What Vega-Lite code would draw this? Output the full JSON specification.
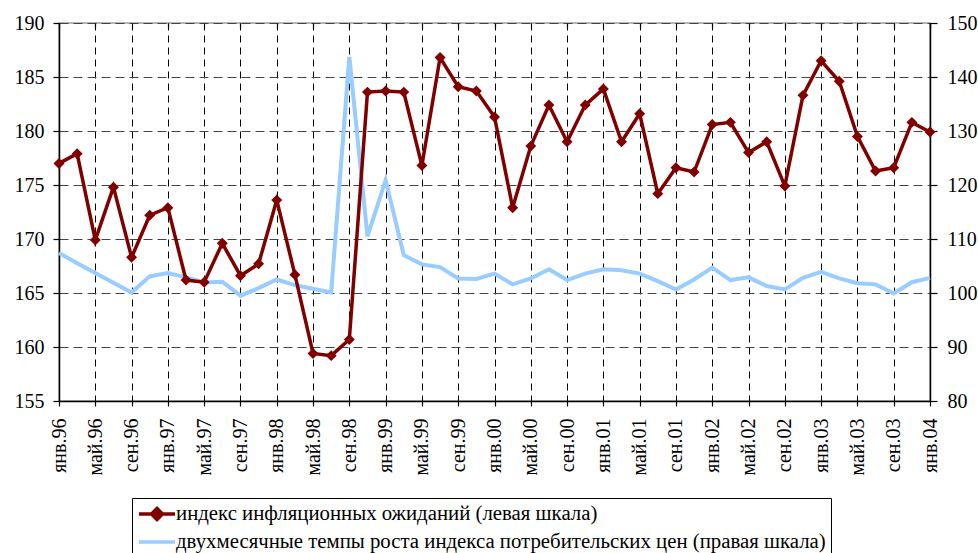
{
  "$schema": "https://vega.github.io/schema/vega-lite/v6.json",
  "width": 871,
  "height": 378,
  "autosize": {"type": "none"},
  "padding": {"left": 59, "top": 23, "right": 48, "bottom": 152},
  "background": "white",
  "config": {
    "font": "Liberation Serif",
    "view": {"stroke": "#a0a0a0", "strokeWidth": 1.5},
    "axis": {
      "labelFont": "Liberation Serif",
      "labelFontSize": 20,
      "labelColor": "black",
      "domainColor": "black",
      "domainWidth": 1.5,
      "tickColor": "black",
      "tickWidth": 1.2,
      "title": null
    }
  },
  "data": {
    "values": [
      {"date": "янв.96", "ie": 177.0, "cpi": 107.4},
      {"date": "мар.96", "ie": 177.9, "cpi": 105.5},
      {"date": "май.96", "ie": 169.9, "cpi": 103.7},
      {"date": "июл.96", "ie": 174.8, "cpi": 101.9},
      {"date": "сен.96", "ie": 168.3, "cpi": 100.1},
      {"date": "ноя.96", "ie": 172.2, "cpi": 103.1},
      {"date": "янв.97", "ie": 172.9, "cpi": 103.7},
      {"date": "мар.97", "ie": 166.2, "cpi": 102.9},
      {"date": "май.97", "ie": 166.0, "cpi": 101.95},
      {"date": "июл.97", "ie": 169.6, "cpi": 102.1},
      {"date": "сен.97", "ie": 166.6, "cpi": 99.5},
      {"date": "ноя.97", "ie": 167.7, "cpi": 100.9},
      {"date": "янв.98", "ie": 173.6, "cpi": 102.5},
      {"date": "мар.98", "ie": 166.7, "cpi": 101.45},
      {"date": "май.98", "ie": 159.4, "cpi": 100.8},
      {"date": "июл.98", "ie": 159.2, "cpi": 100.1},
      {"date": "сен.98", "ie": 160.7, "cpi": 143.7},
      {"date": "ноя.98", "ie": 183.6, "cpi": 110.5},
      {"date": "янв.99", "ie": 183.7, "cpi": 120.9},
      {"date": "мар.99", "ie": 183.6, "cpi": 107.0},
      {"date": "май.99", "ie": 176.8, "cpi": 105.3},
      {"date": "июл.99", "ie": 186.8, "cpi": 104.8},
      {"date": "сен.99", "ie": 184.1, "cpi": 102.7},
      {"date": "ноя.99", "ie": 183.7, "cpi": 102.6},
      {"date": "янв.00", "ie": 181.3, "cpi": 103.6},
      {"date": "мар.00", "ie": 172.9, "cpi": 101.6},
      {"date": "май.00", "ie": 178.6, "cpi": 102.7},
      {"date": "июл.00", "ie": 182.4, "cpi": 104.4},
      {"date": "сен.00", "ie": 179.0, "cpi": 102.4},
      {"date": "ноя.00", "ie": 182.4, "cpi": 103.6},
      {"date": "янв.01", "ie": 183.9, "cpi": 104.4},
      {"date": "мар.01", "ie": 179.0, "cpi": 104.2},
      {"date": "май.01", "ie": 181.6, "cpi": 103.6},
      {"date": "июл.01", "ie": 174.2, "cpi": 102.2},
      {"date": "сен.01", "ie": 176.6, "cpi": 100.65},
      {"date": "ноя.01", "ie": 176.2, "cpi": 102.5},
      {"date": "янв.02", "ie": 180.6, "cpi": 104.7},
      {"date": "мар.02", "ie": 180.8, "cpi": 102.4},
      {"date": "май.02", "ie": 178.0, "cpi": 102.9},
      {"date": "июл.02", "ie": 179.0, "cpi": 101.3},
      {"date": "сен.02", "ie": 174.9, "cpi": 100.65},
      {"date": "ноя.02", "ie": 183.3, "cpi": 102.8},
      {"date": "янв.03", "ie": 186.5, "cpi": 103.9},
      {"date": "мар.03", "ie": 184.6, "cpi": 102.7},
      {"date": "май.03", "ie": 179.5, "cpi": 101.8},
      {"date": "июл.03", "ie": 176.3, "cpi": 101.6},
      {"date": "сен.03", "ie": 176.6, "cpi": 99.9},
      {"date": "ноя.03", "ie": 180.8, "cpi": 102.0},
      {"date": "янв.04", "ie": 179.9, "cpi": 102.8}
    ]
  },
  "layer": [
    {
      "mark": {"type": "line", "strokeWidth": 4, "strokeJoin": "miter"},
      "encoding": {
        "x": {
          "field": "date", "type": "ordinal", "sort": null,
          "scale": {"type": "point", "padding": 0},
          "axis": {
            "values": ["янв.96","май.96","сен.96","янв.97","май.97","сен.97","янв.98","май.98","сен.98","янв.99","май.99","сен.99","янв.00","май.00","сен.00","янв.01","май.01","сен.01","янв.02","май.02","сен.02","янв.03","май.03","сен.03","янв.04"],
            "labelAngle": -90,
            "labelPadding": 12,
            "labelFont": "Liberation Serif",
            "tickSize": 5,
            "grid": true,
            "gridColor": "black",
            "gridDash": [7, 5],
            "gridWidth": 1
          }
        },
        "y": {
          "field": "cpi", "type": "quantitative",
          "scale": {"domain": [80, 150], "nice": false, "zero": false},
          "axis": {
            "orient": "right",
            "values": [80, 90, 100, 110, 120, 130, 140, 150],
            "labelFont": "Liberation Serif",
            "grid": false,
            "tickSize": 7,
            "labelPadding": 10
          }
        },
        "color": {
          "datum": "двухмесячные темпы роста индекса потребительских цен (правая шкала)",
          "scale": {
            "domain": ["индекс инфляционных ожиданий (левая шкала)", "двухмесячные темпы роста индекса потребительских цен (правая шкала)"],
            "range": ["#800000", "#99ccff"]
          },
          "legend": {
            "orient": "none",
            "legendX": 73,
            "legendY": 475,
            "direction": "vertical",
            "title": null,
            "strokeColor": "black",
            "padding": 5,
            "labelFont": "Liberation Serif",
            "labelFontSize": 20.8,
            "labelColor": "black",
            "labelLimit": 1000,
            "labelOffset": 17,
            "rowPadding": 4,
            "symbolType": "M-1,0H3",
            "symbolSize": 324,
            "symbolStrokeWidth": 3.5,
            "encode": {
              "symbols": {
                "update": {
                  "shape": {"signal": "datum.value === 'индекс инфляционных ожиданий (левая шкала)' ? 'M-1,0H3M1,-0.61L1.61,0L1,0.61L0.39,0Z' : 'M-1,0H3'"},
                  "fill": {"signal": "datum.value === 'индекс инфляционных ожиданий (левая шкала)' ? '#800000' : 'transparent'"},
                  "stroke": {"signal": "datum.value === 'индекс инфляционных ожиданий (левая шкала)' ? '#800000' : '#99ccff'"},
                  "strokeWidth": {"value": 3.5}
                }
              }
            }
          }
        }
      }
    },
    {
      "mark": {"type": "line", "strokeWidth": 3.5, "strokeJoin": "miter", "point": {"shape": "diamond", "size": 120, "filled": true, "opacity": 1}},
      "encoding": {
        "x": {
          "field": "date", "type": "ordinal", "sort": null,
          "scale": {"type": "point", "padding": 0},
          "axis": {
            "values": ["янв.96","май.96","сен.96","янв.97","май.97","сен.97","янв.98","май.98","сен.98","янв.99","май.99","сен.99","янв.00","май.00","сен.00","янв.01","май.01","сен.01","янв.02","май.02","сен.02","янв.03","май.03","сен.03","янв.04"],
            "labels": false,
            "domain": false,
            "grid": false,
            "tickSize": -5
          }
        },
        "y": {
          "field": "ie", "type": "quantitative",
          "scale": {"domain": [155, 190], "nice": false, "zero": false},
          "axis": {
            "orient": "left",
            "values": [155, 160, 165, 170, 175, 180, 185, 190],
            "labelFont": "Liberation Serif",
            "grid": true,
            "gridColor": "#444444",
            "gridDash": [9, 5],
            "gridWidth": 1,
            "tickSize": 6,
            "labelPadding": 9
          }
        },
        "color": {"datum": "индекс инфляционных ожиданий (левая шкала)"}
      }
    }
  ],
  "resolve": {"scale": {"y": "independent"}, "axis": {"x": "independent"}}
}
